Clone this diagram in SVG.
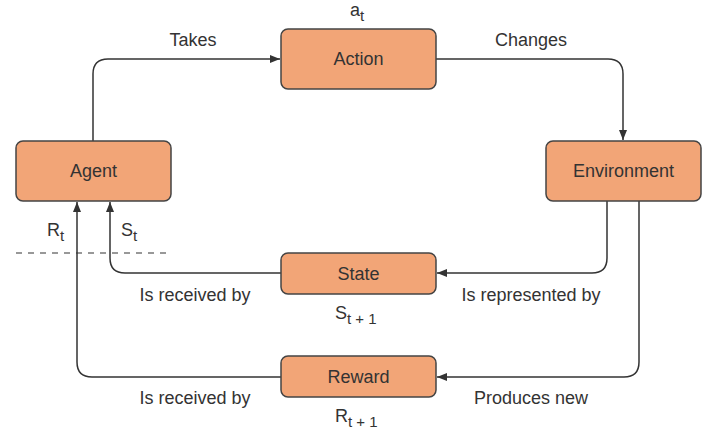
<svg xmlns="http://www.w3.org/2000/svg" width="710" height="438" viewBox="0 0 710 438">
<defs>
<marker id="arr" viewBox="0 0 10 10" refX="10" refY="5" markerWidth="10" markerHeight="10" markerUnits="userSpaceOnUse" orient="auto">
<path d="M0,1 L10,5 L0,9 z" fill="#333"/>
</marker>
<style>
.box{fill:#f2a577;stroke:#444;stroke-width:1.5}
.t{font-family:"Liberation Sans",Arial,sans-serif;font-size:18px;fill:#333}
.c{text-anchor:middle}
.sub{font-size:15px}
.ln{fill:none;stroke:#333;stroke-width:1.5}
</style>
</defs>
<rect width="710" height="438" fill="#fff"/>
<g id="connectors">
<path class="ln" d="M93,141 V74 Q93,59 108,59 H280" marker-end="url(#arr)"/>
<path class="ln" d="M436,59 H608 Q623,59 623,74 V140" marker-end="url(#arr)"/>
<path class="ln" d="M607,201 V258 Q607,273 592,273 H437" marker-end="url(#arr)"/>
<path class="ln" d="M639,201 V362 Q639,377 624,377 H437" marker-end="url(#arr)"/>
<path class="ln" d="M281,273 H125 Q110,273 110,258 V202" marker-end="url(#arr)"/>
<path class="ln" d="M281,377 H92 Q77,377 77,362 V202" marker-end="url(#arr)"/>
<line x1="16" y1="253" x2="172" y2="253" stroke="#333" stroke-width="1.2" stroke-dasharray="6,6"/>
</g>
<g id="action"><rect class="box" x="281" y="29" width="155" height="60" rx="7"/><text class="t c" x="358.5" y="65">Action</text></g>
<g id="agent"><rect class="box" x="16" y="141" width="155" height="60" rx="7"/><text class="t c" x="93.5" y="177">Agent</text></g>
<g id="environment"><rect class="box" x="546" y="141" width="155" height="60" rx="7"/><text class="t c" x="623.5" y="177">Environment</text></g>
<g id="state"><rect class="box" x="281" y="253" width="155" height="41" rx="7"/><text class="t c" x="358.5" y="280">State</text></g>
<g id="reward"><rect class="box" x="281" y="356" width="155" height="41" rx="7"/><text class="t c" x="358.5" y="383">Reward</text></g>
<g id="labels">
<text class="t c" x="193" y="46">Takes</text>
<text class="t c" x="531" y="46">Changes</text>
<text class="t" x="350" y="16">a<tspan class="sub" dy="5">t</tspan></text>
<text class="t" x="47" y="236">R<tspan class="sub" dy="5">t</tspan></text>
<text class="t" x="121" y="236">S<tspan class="sub" dy="5">t</tspan></text>
<text class="t c" x="195" y="301">Is received by</text>
<text class="t c" x="531" y="301">Is represented by</text>
<text class="t" x="335" y="319">S<tspan class="sub" dy="5">t + 1</tspan></text>
<text class="t c" x="195" y="404">Is received by</text>
<text class="t c" x="531" y="404">Produces new</text>
<text class="t" x="335" y="422">R<tspan class="sub" dy="5">t + 1</tspan></text>
</g>
</svg>
